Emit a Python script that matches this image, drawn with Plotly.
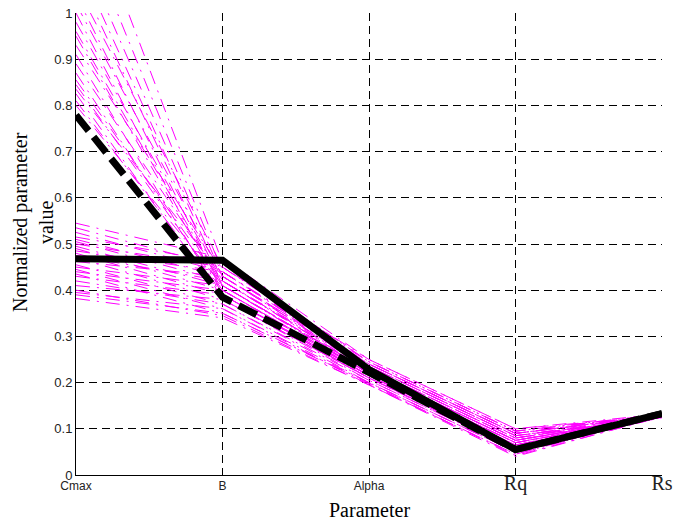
import plotly.graph_objects as go

params = ["Cmax", "B", "Alpha", "Rq", "Rs"]
y_ticks = [0, 0.1, 0.2, 0.3, 0.4, 0.5, 0.6, 0.7, 0.8, 0.9, 1]
y_tick_labels = ["0", "0.1", "0.2", "0.3", "0.4", "0.5", "0.6", "0.7", "0.8", "0.9", "1"]

solid_line = [0.468, 0.465, 0.228, 0.055, 0.133]
dashed_line = [0.779, 0.385, 0.222, 0.055, 0.133]

cmax_vals = [0.545, 0.535, 0.525, 0.515, 0.51, 0.505, 0.50, 0.495, 0.49, 0.485, 0.48, 0.475, 0.47,
             0.462, 0.455, 0.45, 0.445, 0.44, 0.435, 0.43, 0.42, 0.41, 0.40, 0.395, 0.39, 0.382,
             1.30, 1.22, 1.16, 1.12, 1.09, 1.06, 1.04, 1.02, 1.00, 0.98, 0.96, 0.95, 0.93,
             0.91, 0.89, 0.87, 0.855, 0.845, 0.835, 0.825, 0.81, 0.80]
b_vals = [0.47, 0.45, 0.44, 0.46, 0.43, 0.42, 0.45, 0.41, 0.40, 0.44, 0.39, 0.42, 0.38,
          0.43, 0.37, 0.41, 0.36, 0.40, 0.35, 0.39, 0.37, 0.38, 0.345, 0.36, 0.35, 0.34,
          0.46, 0.44, 0.43, 0.42, 0.41, 0.45, 0.40, 0.43, 0.39, 0.42, 0.41, 0.40, 0.44,
          0.38, 0.42, 0.39, 0.41, 0.40, 0.43, 0.38, 0.39, 0.41]
alpha_vals = [0.25, 0.24, 0.235, 0.245, 0.23, 0.225, 0.24, 0.22, 0.215, 0.235, 0.21, 0.225, 0.205,
              0.23, 0.20, 0.22, 0.195, 0.215, 0.20, 0.21, 0.205, 0.21, 0.195, 0.20, 0.198, 0.195,
              0.245, 0.24, 0.235, 0.23, 0.225, 0.25, 0.22, 0.24, 0.215, 0.235, 0.225, 0.22, 0.245,
              0.21, 0.23, 0.215, 0.225, 0.22, 0.24, 0.21, 0.215, 0.225]
rq_vals = [0.10, 0.09, 0.085, 0.095, 0.08, 0.075, 0.09, 0.07, 0.065, 0.085, 0.06, 0.075, 0.055,
           0.08, 0.05, 0.07, 0.045, 0.065, 0.05, 0.06, 0.055, 0.06, 0.045, 0.05, 0.042, 0.04,
           0.095, 0.09, 0.085, 0.08, 0.075, 0.10, 0.07, 0.09, 0.065, 0.085, 0.075, 0.07, 0.095,
           0.06, 0.08, 0.065, 0.075, 0.07, 0.09, 0.055, 0.06, 0.075]
rs_vals = [0.128, 0.13, 0.125, 0.132, 0.127, 0.129, 0.131, 0.126, 0.128, 0.13, 0.124, 0.127, 0.129,
           0.133, 0.125, 0.128, 0.13, 0.126, 0.127, 0.129, 0.131, 0.125, 0.128, 0.13, 0.126, 0.127,
           0.129, 0.131, 0.125, 0.128, 0.13, 0.132, 0.126, 0.127, 0.129, 0.124, 0.128, 0.13, 0.131,
           0.126, 0.127, 0.129, 0.125, 0.128, 0.13, 0.126, 0.127, 0.129]

x_pos = list(range(len(params)))
fig = go.Figure()

n = min(len(cmax_vals), len(b_vals), len(alpha_vals), len(rq_vals), len(rs_vals))
for i in range(n):
    fig.add_trace(go.Scatter(
        x=x_pos, y=[cmax_vals[i], b_vals[i], alpha_vals[i], rq_vals[i], rs_vals[i]],
        mode="lines", line=dict(color="#FF00FF", width=1, dash="14px,7px,2px,7px"),
        showlegend=False, hoverinfo="skip"))

fig.add_trace(go.Scatter(x=x_pos, y=solid_line, mode="lines",
                         line=dict(color="black", width=7), showlegend=False))
fig.add_trace(go.Scatter(x=x_pos, y=dashed_line, mode="lines",
                         line=dict(color="black", width=7, dash="20px,8px"), showlegend=False))

sans = "Liberation Sans, Arial, sans-serif"
serif = "Liberation Serif, Times New Roman, serif"
tick_text = []
for p in params:
    if p in ("Rq", "Rs"):
        tick_text.append(f'<span style="font-family:{serif};font-size:20px">{p}</span>')
    else:
        tick_text.append(p)

fig.update_layout(
    width=682, height=522,
    margin=dict(l=76, r=20, t=13, b=47),
    paper_bgcolor="white", plot_bgcolor="white",
    xaxis=dict(range=[0, 4], tickvals=x_pos, ticktext=tick_text, automargin=False,
               tickfont=dict(family=sans, size=12, color="#222"),
               showgrid=True, gridcolor="black", griddash="8px,5px", gridwidth=1,
               showline=True, linecolor="black", linewidth=1, zeroline=False, ticks=""),
    yaxis=dict(range=[0, 1], tickvals=y_ticks, ticktext=y_tick_labels, automargin=False,
               tickfont=dict(family=sans, size=13, color="#222"),
               showgrid=True, gridcolor="black", griddash="8px,5px", gridwidth=1,
               showline=True, linecolor="black", linewidth=1, zeroline=False, ticks=""),
    annotations=[
        dict(text="Parameter", xref="paper", yref="paper", x=0.5, y=-0.076,
             xanchor="center", yanchor="middle", showarrow=False,
             font=dict(family=serif, size=20, color="black")),
        dict(text="Normalized parameter<br>value", xref="paper", yref="paper",
             x=-0.073, y=0.548, xanchor="center", yanchor="middle", textangle=-90,
             showarrow=False, font=dict(family=serif, size=20, color="black")),
    ],
)

fig.write_html("out.html", config={"displayModeBar": False},
               post_script="document.body.style.margin='0';")
